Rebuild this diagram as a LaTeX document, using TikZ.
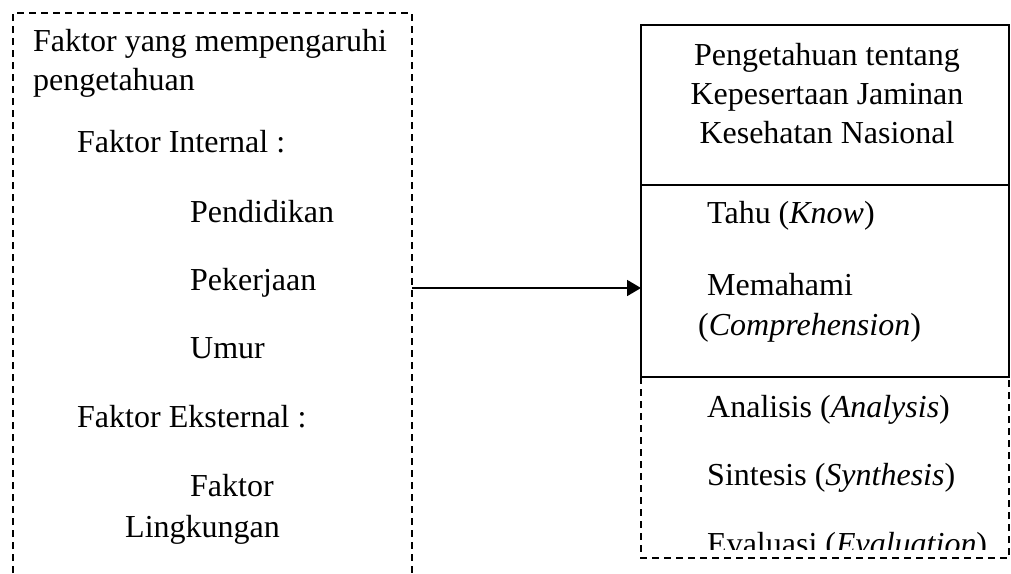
\documentclass[tikz,border=0pt]{standalone}
\usepackage{fontspec}
\setmainfont{Liberation Serif}
\usetikzlibrary{arrows.meta}
\tikzset{
  txt/.style={anchor=base west,inner sep=0pt},
  ctxt/.style={anchor=base,inner sep=0pt},
  dbox/.style={line width=1.6pt,dash pattern=on 7pt off 5pt},
  sbox/.style={line width=1.8pt}
}
\begin{document}
\begin{tikzpicture}[x=1pt,y=-1pt,>={Triangle[length=14pt,width=16pt]},line join=miter,font=\fontsize{32}{40}\selectfont]
            \useasboundingbox (0,0) rectangle (1011,573);
            % corners of the two boxes
            \coordinate (lt) at (13,13);
            \coordinate (rt) at (412,13);
            \coordinate (a) at (641,25);
            \coordinate (b) at (1009,25);
            \coordinate (c) at (641,185);
            \coordinate (d) at (1009,185);
            \coordinate (e) at (641,377);
            \coordinate (f) at (1009,377);
            \coordinate (g) at (641,558);
            \coordinate (h) at (1009,558);
            \coordinate (p) at (412,288);
            \coordinate (q) at (641,288);
            % left box, open at the bottom
            \draw[dbox] (13,573)--(lt)--(rt)--(412,573);
            \node[txt] (f1) at (33,51) {Faktor yang mempengaruhi};
            \node[txt] (f2) at (33,90) {pengetahuan};
            \node[txt] (int) at (77,152) {Faktor Internal :};
            \node[txt] (pend) at (190,222) {Pendidikan};
            \node[txt] (pek) at (190,290) {Pekerjaan};
            \node[txt] (umur) at (190,358) {Umur};
            \node[txt] (eks) at (77,427) {Faktor Eksternal :};
            \node[txt] (ling1) at (190,496) {Faktor};
            \node[txt] (ling2) at (125,537) {Lingkungan};
            % right box
            \draw[sbox] (a) rectangle (f);
            \draw[sbox] (c)--(d);
            \draw[dbox] (e)--(g)--(h)--(f);
            \node[ctxt] (k1) at (827,65) {Pengetahuan tentang};
            \node[ctxt] (k2) at (827,104) {Kepesertaan Jaminan};
            \node[ctxt] (k3) at (827,143) {Kesehatan Nasional};
            \node[txt] (tahu) at (707,223) {Tahu (\textit{Know})};
            \node[txt] (mem1) at (707,295) {Memahami};
            \node[txt] (mem2) at (698,335) {(\textit{Comprehension})};
            \node[txt] (ana) at (707,417) {Analisis (\textit{Analysis})};
            \node[txt] (sin) at (707,485) {Sintesis (\textit{Synthesis})};
            \begin{scope}
            \clip (641,500) rectangle (1009,549);
            \node[txt] (eva) at (707,554) {Evaluasi (\textit{Evaluation})};
            \end{scope}
            \draw[->,line width=1.8pt] (p)--(q);
        \end{tikzpicture}
\end{document}
